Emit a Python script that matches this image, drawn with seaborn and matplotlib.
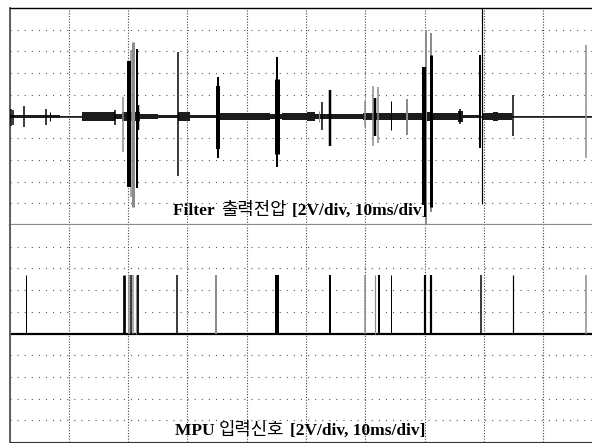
import numpy as np
import pandas as pd
import matplotlib
matplotlib.use("Agg")
import matplotlib.pyplot as plt
import seaborn as sns

# ---------------- data (time in ms, voltage in V) ----------------
# top trace: low-level noise bands
band_start = [0.0, 8.5, 12.2, 17.8, 19.0, 22.0, 25.0, 28.4, 30.4, 35.5, 44.0, 46.0, 50.2, 51.5,
              59.6, 62.5, 69.9, 71.2, 75.6, 76.5, 79.8, 81.6, 82.4, 84.7]
band_end = [8.5, 12.2, 17.8, 19.0, 22.0, 25.0, 28.4, 30.4, 35.0, 44.0, 46.0, 50.2, 51.5, 59.6,
            62.5, 69.9, 71.2, 75.6, 76.5, 79.3, 81.6, 82.4, 84.7, 100.0]
band_amp = [0.12, 0.08, 0.40, 0.25, 0.45, 0.25, 0.12, 0.40, 0.12, 0.32, 0.25, 0.28, 0.45, 0.25,
            0.32, 0.28, 0.45, 0.32, 0.55, 0.12, 0.28, 0.45, 0.28, 0.08]

# top trace: bursts / spikes
spike_t = [0.25, 0.6, 2.5, 6.1, 6.8, 17.8, 19.2, 20.1, 20.5, 20.9, 21.45, 21.7, 28.4, 35.2, 35.1,
           45.1, 45.1, 52.2, 52.7, 54.0, 59.95, 61.3, 61.6, 62.2, 64.3, 67.1, 70.2, 69.95, 71.0,
           71.0, 76.0, 79.4, 84.9, 97.3]
spike_hi = [0.65, 0.6, 1.0, 0.7, 0.4, 0.6, 1.8, 5.1, 6.1, 6.9, 6.2, 1.1, 5.9, 3.6, 2.8,
            5.5, 3.5, 0.5, 1.3, 2.4, 1.4, 2.8, 1.7, 2.7, 1.4, 1.6, 8.0, 4.6, 7.7,
            5.7, 0.7, 5.7, 2.0, 6.6]
spike_lo = [-0.9, -0.8, -1.0, -0.8, -0.4, -0.8, -3.3, -6.5, -7.4, -8.3, -6.6, -1.2, -5.5, -3.8, -3.0,
            -4.7, -3.5, -0.5, -1.2, -2.7, -1.0, -2.7, -1.8, -2.4, -1.2, -1.7, -10.0, -8.2, -8.8,
            -8.3, -0.7, -2.9, -1.8, -3.8]
# style of each spike (line width in px, grey or black)
spike_px = [1.5, 1.5, 1.5, 1.5, 1, 1.5, 1.5, 4, 1.5, 3, 2, 2.5, 1.5, 2, 4,
            2, 5, 1, 1.5, 2.5, 1.5, 1.5, 2.5, 1.5, 1, 2, 2, 4, 2,
            3, 1.5, 2, 1.5, 1.5]
spike_grey = [0, 0, 0, 0, 0, 0, 1, 0, 1, 1, 0, 0, 0, 0, 0,
              0, 0, 1, 0, 0, 1, 1, 0, 1, 0, 1, 1, 0, 1,
              0, 0, 0, 0, 1]

cursor_t = 79.6
cursor_low = -8.1

# bottom trace: MPU input pulses
pulse_t = [2.73, 19.35, 20.1, 20.5, 20.85, 21.3, 21.6, 28.3, 34.9, 45.15, 54.05, 59.95, 61.6,
           62.3, 64.4, 70.1, 71.0, 79.5, 84.85, 97.3]
pulse_level = 5.4
pulse_px = [1, 2.7, 1.5, 1.5, 1.5, 1.2, 1.8, 1.5, 2, 4, 2, 1.5, 1.2,
            2, 1, 2.2, 2.2, 1.5, 1.2, 1.5]
pulse_grey = [0, 0, 1, 0, 1, 1, 0, 0, 1, 0, 0, 1, 1,
              0, 0, 0, 0, 0, 0, 1]

top_label = ["Filter ", "출력전압", "[2V/div, 10ms/div]"]
bot_label = ["MPU ", "입력신호", "[2V/div, 10ms/div]"]

# ---------------- figure ----------------
sns.set_style("white")
plt.rcParams["font.family"] = ["Liberation Serif", "Noto Sans CJK KR"]
plt.rcParams["lines.scale_dashes"] = False

W, H = 592, 443
fig = plt.figure(figsize=(W / 100, H / 100), dpi=100)
PX = 0.72  # points per pixel

x0, x1 = 9.5, 602.5
y_top, y_sep, y_bot = 8.0, 225.0, 442.0
ax1 = fig.add_axes([x0 / W, 1 - y_sep / H, (x1 - x0) / W, (y_sep - y_top) / H])
ax2 = fig.add_axes([x0 / W, 1 - y_bot / H, (x1 - x0) / W, (y_bot - y_sep) / H])

for ax in (ax1, ax2):
    ax.set_xlim(0, 100)
    ax.set_ylim(-10, 10)
    ax.set_xticks(np.arange(0, 101, 10))
    ax.set_yticks([-8, -6, -4, -2, 2, 4, 6, 8])
    ax.tick_params(length=0, labelbottom=False, labelleft=False)
    ax.xaxis.grid(True, linestyle=(0, (0.8, 1.2)), color="#444444", lw=0.8)
    ax.yaxis.grid(True, linestyle=(0, (0.8, 4.3)), color="#555555", lw=0.8)
    ax.set_axisbelow(True)
    ax.set_facecolor("white")
    ax.spines["right"].set_visible(False)
    ax.spines["left"].set_color("#555555")
    ax.spines["left"].set_linewidth(1.3)

ax1.spines["top"].set_color("black")
ax1.spines["top"].set_linewidth(1.0)
ax1.spines["bottom"].set_color("#8a8a8a")
ax1.spines["bottom"].set_linewidth(1.6)
ax2.spines["top"].set_visible(False)
ax2.spines["bottom"].set_linestyle((0, (0.8, 0.8)))
ax2.spines["bottom"].set_color("#333333")
ax2.spines["bottom"].set_linewidth(0.8)

# ---- top trace ----
sns.lineplot(x=[0, 100], y=[0, 0], ax=ax1, color="#222222", lw=1.2)
for s, e, a in zip(band_start, band_end, band_amp):
    ax1.fill_between([s, e], [-a, -a], [a, a], color="#1c1c1c", lw=0, zorder=3)
for t, hi, lo, px, g in zip(spike_t, spike_hi, spike_lo, spike_px, spike_grey):
    ax1.vlines(t, lo, hi, colors="#8c8c8c" if g else "black", lw=px * PX, zorder=4 if not g else 3.5)
ax1.vlines(cursor_t, cursor_low, 10, colors="black", lw=1.2 * PX, zorder=5)

# ---- bottom trace ----
sns.lineplot(x=[0, 100], y=[0, 0], ax=ax2, color="black", lw=2 * PX * 1.1)
for t, px, g in zip(pulse_t, pulse_px, pulse_grey):
    ax2.vlines(t, 0, pulse_level, colors="#8c8c8c" if g else "black", lw=px * PX, zorder=4)

# ---- labels ----
def put_label(ax, parts, xs, y):
    fams = [["Liberation Serif"], ["Noto Sans CJK KR"], ["Liberation Serif"]]
    weights = ["bold", "medium", "bold"]
    sizes = [12.5, 12.8, 12.5]
    for p, x, f, w, s in zip(parts, xs, fams, weights, sizes):
        ax.text(x, y, p, family=f, fontweight=w, fontsize=s, va="baseline", ha="left",
                color="black", zorder=6)

def tx(px):
    return (px - x0) / ((x1 - x0) / 100)

put_label(ax1, top_label, [tx(173), tx(221), tx(292)], -9.08)
put_label(ax2, bot_label, [tx(175), tx(219), tx(290)], -9.35)

fig.savefig("out.png", dpi=100)
